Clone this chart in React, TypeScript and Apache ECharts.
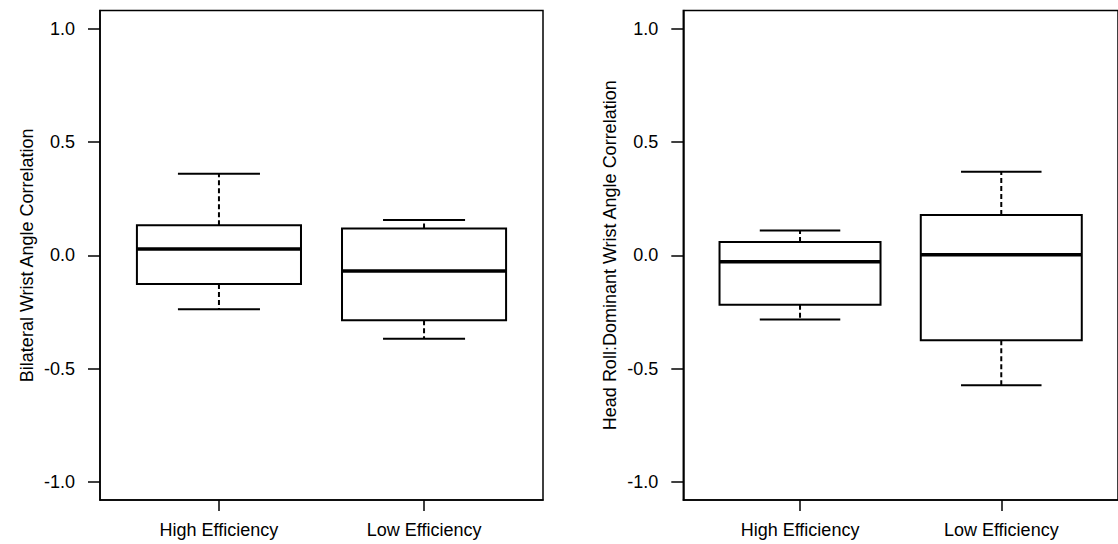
import React, { useEffect, useRef } from "react";
import * as echarts from "echarts";

// ---- data ----
const categories = ["High Efficiency", "Low Efficiency"];
// [lower whisker, Q1, median, Q3, upper whisker]
const bilateralHigh = [-0.238, -0.127, 0.028, 0.132, 0.36];
const bilateralLow = [-0.369, -0.287, -0.069, 0.118, 0.156];
const headRollHigh = [-0.284, -0.218, -0.029, 0.058, 0.109];
const headRollLow = [-0.574, -0.375, 0.002, 0.178, 0.368];
const yTicks = [-1, -0.5, 0, 0.5, 1];
const leftTitle = "Bilateral Wrist Angle Correlation";
const rightTitle = "Head Roll:Dominant Wrist Angle Correlation";

const FONT = '"Liberation Sans", Arial, Helvetica, sans-serif';
const BOX_HALF = 0.4;
const CAP_HALF = 0.2;

function buildData(groups: number[][]) {
  return groups.map((g, i) => [i + 1, ...g]);
}

function renderBox(params: any, api: any) {
  const x = api.value(0);
  const lo = api.value(1);
  const q1 = api.value(2);
  const med = api.value(3);
  const q3 = api.value(4);
  const hi = api.value(5);
  const tl = api.coord([x - BOX_HALF, q3]);
  const br = api.coord([x + BOX_HALF, q1]);
  const pQ3 = api.coord([x, q3]);
  const pHi = api.coord([x, hi]);
  const pQ1 = api.coord([x, q1]);
  const pLo = api.coord([x, lo]);
  const capHiL = api.coord([x - CAP_HALF, hi]);
  const capHiR = api.coord([x + CAP_HALF, hi]);
  const capLoL = api.coord([x - CAP_HALF, lo]);
  const capLoR = api.coord([x + CAP_HALF, lo]);
  const medL = api.coord([x - BOX_HALF, med]);
  const medR = api.coord([x + BOX_HALF, med]);
  const solid = { stroke: "#000", lineWidth: 2 };
  const dashed = { stroke: "#000", lineWidth: 2, lineDash: [5, 3] };
  return {
    type: "group",
    children: [
      { type: "line", shape: { x1: pQ3[0], y1: pQ3[1], x2: pHi[0], y2: pHi[1] }, style: dashed },
      { type: "line", shape: { x1: pQ1[0], y1: pQ1[1], x2: pLo[0], y2: pLo[1] }, style: dashed },
      { type: "line", shape: { x1: capHiL[0], y1: capHiL[1], x2: capHiR[0], y2: capHiR[1] }, style: solid },
      { type: "line", shape: { x1: capLoL[0], y1: capLoL[1], x2: capLoR[0], y2: capLoR[1] }, style: solid },
      {
        type: "rect",
        shape: { x: tl[0], y: tl[1], width: br[0] - tl[0], height: br[1] - tl[1] },
        style: { fill: "#fff", stroke: "#000", lineWidth: 2 },
      },
      { type: "line", shape: { x1: medL[0], y1: medL[1], x2: medR[0], y2: medR[1] }, style: { stroke: "#000", lineWidth: 3.5 } },
    ],
  };
}

function xAxisCfg(gridIndex: number) {
  return {
    type: "value",
    gridIndex,
    min: 0.42,
    max: 2.58,
    splitLine: { show: false },
    axisLine: { show: true, onZero: false, lineStyle: { color: "#000", width: 1.5 } },
    axisTick: {
      show: true,
      inside: false,
      length: 11,
      customValues: [1, 2],
      lineStyle: { color: "#000", width: 1.5 },
    },
    axisLabel: {
      show: true,
      margin: 21,
      customValues: [1, 2],
      formatter: (v: number) => categories[Math.round(v) - 1] ?? "",
      color: "#000",
      fontSize: 18,
      fontFamily: FONT,
    },
  };
}

function yAxisCfg(gridIndex: number, title: string) {
  return {
    type: "value",
    gridIndex,
    min: -1.08,
    max: 1.08,
    name: title,
    nameLocation: "middle",
    nameGap: 64,
    nameRotate: 90,
    nameTextStyle: { color: "#000", fontSize: 18, fontFamily: FONT },
    splitLine: { show: false },
    axisLine: { show: true, onZero: false, lineStyle: { color: "#000", width: 1.5 } },
    axisTick: {
      show: true,
      inside: false,
      length: 12,
      customValues: yTicks,
      lineStyle: { color: "#000", width: 1.5 },
    },
    axisLabel: {
      show: true,
      margin: 25,
      customValues: yTicks,
      formatter: (v: number) => v.toFixed(1),
      color: "#000",
      fontSize: 18,
      fontFamily: FONT,
    },
  };
}

export default function App() {
  const ref = useRef<HTMLDivElement>(null);
  useEffect(() => {
    if (!ref.current) return;
    const chart = echarts.init(ref.current, undefined, { renderer: "svg" });
    const gridCommon = {
      top: 10.5,
      height: 489.5,
      width: 443,
      show: true,
      borderColor: "#000",
      borderWidth: 1.5,
      backgroundColor: "transparent",
      containLabel: false,
    };
    chart.setOption({
      animation: false,
      backgroundColor: "#fff",
      grid: [
        { ...gridCommon, left: 100 },
        { ...gridCommon, left: 683.3 },
      ],
      xAxis: [xAxisCfg(0), xAxisCfg(1)],
      yAxis: [yAxisCfg(0, leftTitle), yAxisCfg(1, rightTitle)],
      series: [
        {
          type: "custom",
          xAxisIndex: 0,
          yAxisIndex: 0,
          renderItem: renderBox,
          encode: { x: 0, y: [1, 5] },
          data: buildData([bilateralHigh, bilateralLow]),
          clip: false,
        },
        {
          type: "custom",
          xAxisIndex: 1,
          yAxisIndex: 1,
          renderItem: renderBox,
          encode: { x: 0, y: [1, 5] },
          data: buildData([headRollHigh, headRollLow]),
          clip: false,
        },
      ],
    });
    return () => chart.dispose();
  }, []);
  return (
    <div
      ref={ref}
      style={{ position: "fixed", left: 0, top: 0, width: 1118, height: 544, background: "#fff" }}
    />
  );
}
